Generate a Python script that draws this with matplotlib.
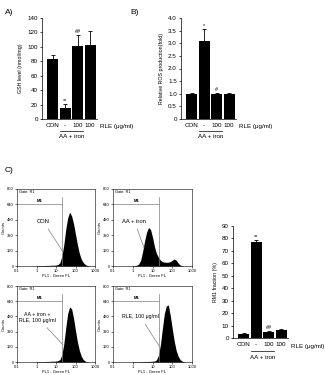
import matplotlib.pyplot as plt
import numpy as np

plt.rcParams['font.family'] = ['Liberation Sans', 'DejaVu Sans']

# bar panel data
bar_labels = ['CON', '-', '100', '100']
gsh_mean = [83, 15, 101, 102]
gsh_err = [6, 6, 15, 20]
gsh_marks = ['', '**', '##', '']
ros_mean = [1.0, 3.1, 1.0, 1.0]
ros_err = [0.03, 0.45, 0.04, 0.02]
ros_marks = ['', '*', '#', '']
rm1_mean = [3.5, 77, 4.5, 6.2]
rm1_err = [0.8, 2.0, 1.0, 1.0]
rm1_marks = ['', '**', '##', '']

# flow cytometry histograms, counts per log10 channel (-1.0 .. 3.0, step 0.1)
log_channel = np.round(np.arange(-1.0, 3.01, 0.1), 1)
low = [0] * 10
hist_con = low + [3, 4, 4, 5, 5, 6, 6, 7, 8, 8, 10, 15, 35, 100, 220, 380, 500, 560, 520,
                  440, 330, 220, 130, 70, 35, 15, 6, 2, 0, 0, 0]
hist_aa = low + [3, 5, 8, 20, 60, 150, 260, 350, 400, 380, 300, 200, 130, 90, 60, 45, 40,
                 38, 40, 45, 60, 72, 60, 30, 10, 3, 0, 0, 0, 0, 0]
hist_aa_rle = low + [3, 4, 4, 5, 5, 6, 6, 7, 8, 8, 10, 14, 25, 75, 190, 360, 510, 580, 560,
                     460, 330, 210, 120, 60, 25, 9, 3, 0, 0, 0, 0]
hist_rle = low + [2, 3, 3, 4, 4, 5, 5, 6, 6, 7, 8, 10, 22, 70, 180, 350, 510, 590, 600,
                  490, 350, 220, 120, 60, 25, 9, 3, 0, 0, 0, 0]
m1_edge = 21

fig = plt.figure(figsize=(3.25, 3.75), dpi=100)
W, H = 325, 375


def px_axes(x0, y0, x1, y1):
    return fig.add_axes([x0 / W, 1 - y1 / H, (x1 - x0) / W, (y1 - y0) / H])


def bar_panel(ax, means, errs, marks, ylim, yticks, ylabel, fmt):
    x = np.arange(len(means))
    ax.bar(x, means, width=0.9, color='black')
    ax.errorbar(x, means, yerr=[np.zeros(len(errs)), errs], fmt='none',
                ecolor='black', elinewidth=0.6, capsize=1.5, capthick=0.6)
    for xi, m, e, t in zip(x, means, errs, marks):
        if t:
            ax.text(xi, m + e + ylim * 0.01, t, ha='center', va='bottom', fontsize=4)
    ax.set_ylim(0, ylim)
    ax.set_xlim(-0.85, 3.55)
    ax.set_yticks(yticks)
    ax.set_yticklabels([fmt.format(v) for v in yticks])
    ax.set_xticks(x)
    ax.set_xticklabels(bar_labels)
    ax.tick_params(axis='x', length=0, labelsize=4.5, pad=3)
    ax.tick_params(axis='y', length=1.5, width=0.5, labelsize=4.5, pad=1.5)
    for s in ['top', 'right']:
        ax.spines[s].set_visible(False)
    for s in ['left', 'bottom']:
        ax.spines[s].set_linewidth(0.5)
    ax.set_ylabel(ylabel, fontsize=3.8, labelpad=3)
    ax.text(1.05, -0.075, 'RLE (\u03bcg/ml)', transform=ax.transAxes, fontsize=4.5,
            ha='left', va='center')
    ax.plot([0.58, 2.45], [-0.115, -0.115], transform=ax.get_xaxis_transform(),
            color='black', lw=0.5, clip_on=False)
    ax.text(1.5, -0.175, 'AA + iron', transform=ax.get_xaxis_transform(), fontsize=4.5,
            ha='center', va='center')


axA = px_axes(42, 18, 97, 119)
bar_panel(axA, gsh_mean, gsh_err, gsh_marks, 140, range(0, 141, 20),
          'GSH level (nmol/mg)', '{:d}')
axB = px_axes(181, 18, 236, 119)
bar_panel(axB, ros_mean, ros_err, ros_marks, 4.0, np.arange(0, 4.01, 0.5),
          'Relative ROS production(fold)', '{:.1f}')
axC = px_axes(233, 226, 288, 338)
bar_panel(axC, rm1_mean, rm1_err, rm1_marks, 90, range(0, 91, 10),
          'RM1 fraction (%)', '{:d}')
axB.set_yticklabels(['0'] + ['{:.1f}'.format(v) for v in np.arange(0.5, 4.01, 0.5)])

fig.text(5 / W, 1 - 12 / H, 'A)', fontsize=6, va='center')
fig.text(130 / W, 1 - 12 / H, 'B)', fontsize=6, va='center')
fig.text(5 / W, 1 - 171 / H, 'C)', fontsize=6, va='center')

hist_boxes = [(17, 189, 95, 266), (113, 189, 192, 266), (17, 286, 95, 362), (113, 286, 192, 362)]
hists = [hist_con, hist_aa, hist_aa_rle, hist_rle]
notes = [('CON', (2.2, 465), (20, 165), 4.2),
         ('AA + iron', (1.2, 467), (3.7, 190), 4.2),
         ('AA + iron +\nRLE, 100 \u03bcg/ml', (1.1, 470), (23, 180), 3.8),
         ('RLE, 100 \u03bcg/ml', (2.4, 478), (23, 160), 3.8)]

for box, counts, (note, txy, pxy, fs) in zip(hist_boxes, hists, notes):
    ax = px_axes(*box)
    ax.fill_between(10 ** log_channel, counts, color='black', lw=0)
    ax.set_xscale('log')
    ax.set_xlim(0.1, 1000)
    ax.set_ylim(0, 800)
    ax.set_xticks([0.1, 1, 10, 100, 1000])
    ax.set_xticklabels(['0.1', '1', '10', '100', '1000'])
    ax.minorticks_off()
    ax.set_yticks(range(0, 801, 160))
    ax.tick_params(labelsize=3, length=1.2, width=0.4, pad=1)
    for s in ax.spines.values():
        s.set_linewidth(0.4)
    ax.set_xlabel('FL1 - Green FL', fontsize=3, labelpad=1)
    ax.set_ylabel('Counts', fontsize=3, labelpad=1)
    ax.text(0.13, 770, 'Gate: R1', fontsize=2.8, va='center')
    ax.plot([0.1, m1_edge], [640, 640], color='gray', lw=0.5)
    ax.plot([m1_edge, m1_edge], [0, 720], color='gray', lw=0.5)
    ax.text(1.5, 650, 'M1', fontsize=3, ha='center', va='bottom', weight='bold')
    ax.annotate(note, xy=pxy, xytext=txy, fontsize=fs, ha='center', va='center',
                arrowprops=dict(arrowstyle='-', color='gray', lw=0.5,
                                shrinkA=2, shrinkB=0))

fig.savefig('out.png', dpi=100)
